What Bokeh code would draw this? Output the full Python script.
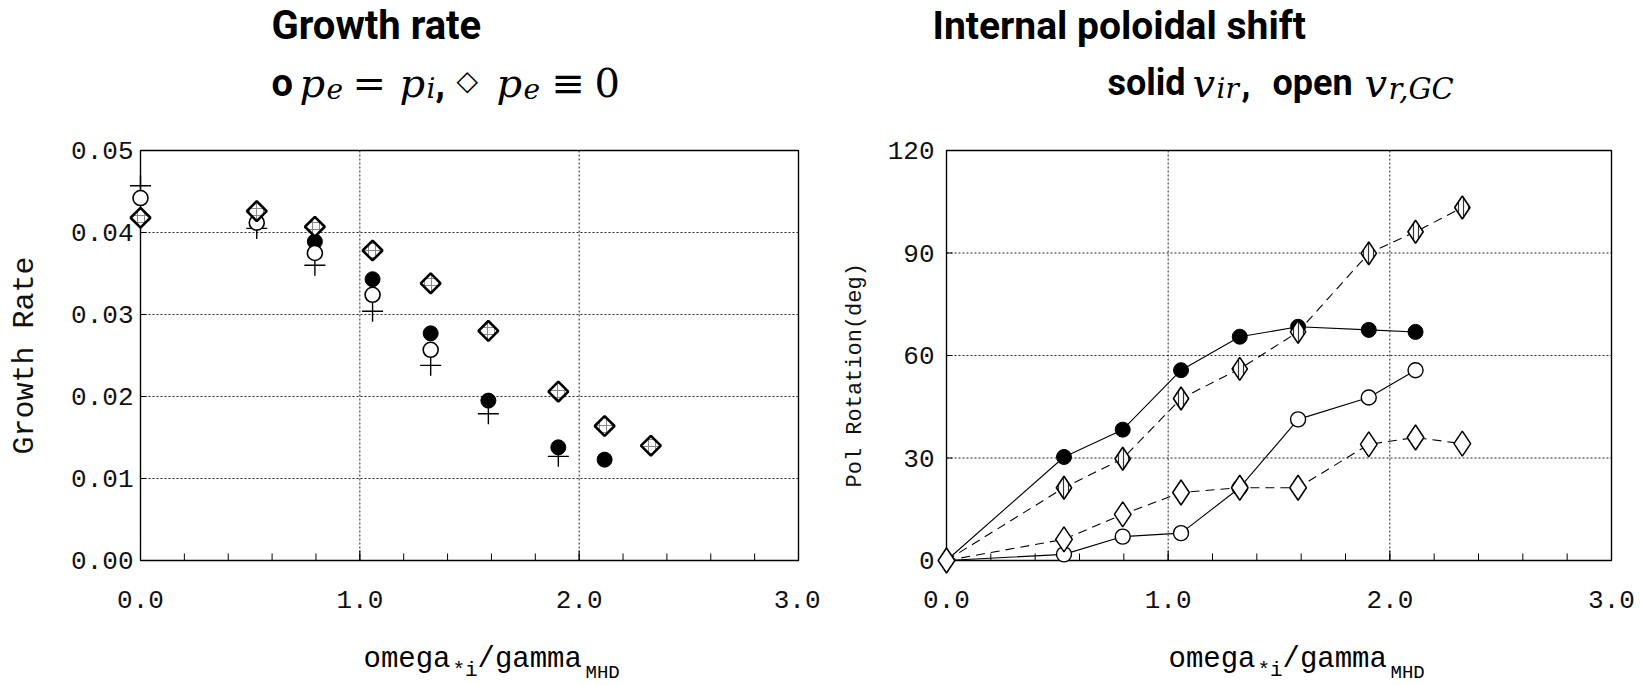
import numpy as np
from bokeh.plotting import figure
from bokeh.models import Range1d, FixedTicker, PrintfTickFormatter
from bokeh.core.properties import value
from bokeh.layouts import row, column
from bokeh.embed import file_html
from bokeh.resources import INLINE

# ---------------- data ----------------
# Growth rate panel
gr_diam_x = [0.0, 0.53, 0.795, 1.058, 1.323, 1.586, 1.905, 2.116, 2.327]
gr_diam_y = [0.0418, 0.0426, 0.0407, 0.0378, 0.0338, 0.0280, 0.0206, 0.0164, 0.0140]
gr_fill_x = [0.795, 1.058, 1.323, 1.586, 1.905, 2.116]
gr_fill_y = [0.0389, 0.0343, 0.0277, 0.0195, 0.0138, 0.0123]
gr_open_x = [0.0, 0.53, 0.795, 1.058, 1.323]
gr_open_y = [0.0442, 0.0412, 0.0375, 0.0324, 0.0257]
gr_plus_x = [0.0, 0.53, 0.795, 1.058, 1.323, 1.586, 1.905]
gr_plus_y = [0.0457, 0.0405, 0.0360, 0.0304, 0.0238, 0.0179, 0.0127]

# Poloidal rotation panel
rot_circ_x = [0.0, 0.53, 0.795, 1.058, 1.323, 1.586, 1.905, 2.116]
rot_fill_y = [0, 30.3, 38.3, 55.7, 65.5, 68.4, 67.5, 66.9]
rot_open_y = [0, 1.8, 7.0, 8.0, 21.3, 41.3, 47.7, 55.7]
rot_diam_x = [0.0, 0.53, 0.795, 1.058, 1.323, 1.586, 1.905, 2.116, 2.327]
rot_hatch_y = [0, 21.3, 29.8, 47.4, 56.1, 66.9, 89.9, 96.2, 103.3]
rot_odiam_y = [0, 6.2, 13.5, 19.9, 21.3, 21.3, 34.0, 36.0, 34.2]

x_ticks = [0.0, 1.0, 2.0, 3.0]
x_minor = [round(0.2 * k, 1) for k in range(16)]
gr_ticks = [0.0, 0.01, 0.02, 0.03, 0.04, 0.05]
rot_ticks = [0, 30, 60, 90, 120]

MONO = "Liberation Mono"
SANS = "Roboto"
SERIF = "DejaVu Serif"

W = 1641
TOP_H = 120          # title strip
PLOT_H = 510         # plot row
BOT_H = 55           # x-label strip
PAD = 15             # pixels of free room round the axes box
BOX_TOP = 150        # page y of axes box top
BOX_H = 410          # axes box height in pixels


def panel(width, box_left, box_w, yticks, yfmt, ylabel, ysize, ystand,
          ylab_stand):
    xmax = x_ticks[-1]
    ymax = yticks[-1]
    sx = xmax / box_w            # data per pixel
    sy = ymax / BOX_H
    left = box_left - PAD
    p = figure(width=width, height=PLOT_H,
               x_range=Range1d(-PAD * sx, xmax + PAD * sx),
               y_range=Range1d(-PAD * sy, ymax + PAD * sy),
               output_backend="svg", toolbar_location=None,
               min_border_left=left,
               min_border_right=width - left - box_w - 2 * PAD,
               min_border_top=BOX_TOP - PAD - TOP_H,
               min_border_bottom=PLOT_H - (BOX_TOP - PAD - TOP_H) - BOX_H - 2 * PAD)
    p.background_fill_color = "white"
    p.border_fill_color = "white"
    p.outline_line_color = None
    p.grid.visible = False
    xa, ya = p.xaxis[0], p.yaxis[0]
    xa.ticker = FixedTicker(ticks=x_ticks)
    xa.formatter = PrintfTickFormatter(format="%.1f")
    ya.ticker = FixedTicker(ticks=yticks)
    ya.formatter = PrintfTickFormatter(format=yfmt)
    for ax in (xa, ya):
        ax.axis_line_color = None
        ax.major_tick_line_color = None
        ax.minor_tick_line_color = None
        ax.major_label_text_font = MONO
        ax.major_label_text_font_size = "26px"
        ax.major_label_text_color = "#111111"
        ax.major_tick_out = 0
        ax.major_tick_in = 0
        ax.minor_tick_out = 0
        ax.minor_tick_in = 0
    xa.major_label_standoff = 30 - PAD
    ya.major_label_standoff = ystand - PAD
    ya.axis_label = ylabel
    ya.axis_label_text_font = MONO
    ya.axis_label_text_font_style = "normal"
    ya.axis_label_text_font_size = ysize
    ya.axis_label_text_color = "#111111"
    ya.axis_label_standoff = ylab_stand

    # dotted grid inside the box
    gx = x_ticks[1:-1]
    p.segment(x0=gx, y0=[0] * len(gx), x1=gx, y1=[ymax] * len(gx),
              line_color="#222222", line_dash="2 2", line_width=1)
    gy = yticks[1:-1]
    p.segment(x0=[0] * len(gy), y0=gy, x1=[xmax] * len(gy), y1=gy,
              line_color="#222222", line_dash="2 2", line_width=1)
    # ticks pointing in
    p.segment(x0=x_minor, y0=[0] * len(x_minor), x1=x_minor,
              y1=[7 * sy] * len(x_minor), line_color="black", line_width=1)
    p.segment(x0=x_ticks, y0=[0] * len(x_ticks), x1=x_ticks,
              y1=[10 * sy] * len(x_ticks), line_color="black", line_width=1)
    p.segment(x0=[0] * len(yticks), y0=yticks, x1=[6 * sx] * len(yticks),
              y1=yticks, line_color="black", line_width=1)
    # the axes box
    p.line(x=[0, xmax, xmax, 0, 0], y=[0, 0, ymax, ymax, 0],
           line_color="black", line_width=1.4)
    return p


def strip_fig(height, y0):
    s = figure(width=W, height=height, x_range=Range1d(0, W),
               y_range=Range1d(y0 + height, y0),
               output_backend="svg", toolbar_location=None,
               x_axis_type=None, y_axis_type=None,
               min_border_left=0, min_border_right=0,
               min_border_top=0, min_border_bottom=0)
    s.outline_line_color = None
    s.grid.visible = False
    s.background_fill_color = "white"
    s.border_fill_color = "white"
    return s


def t(fig, px, py, s, font, size, style="normal"):
    fig.text(x=[px], y=[py], text=[s], text_font=value(font),
             text_font_size=value(f"{size}px"),
             text_font_style=value(style),
             text_baseline="alphabetic", text_align="left",
             text_color="black")


TS = 40   # title sans size
MS = 40   # math main size
SS = 28   # math subscript size
L1 = 25   # baseline of first title line (strip coords)
L2 = 82   # baseline of second title line
SB = 88   # subscript baseline

# ---------------- title strip ----------------
top = strip_fig(TOP_H, 0)
t(top, 271, L1, "Growth rate", SANS, TS, "bold")
t(top, 271, L2, "o", SANS, 38, "bold")
t(top, 299, L2, "p", SERIF, MS, "italic")
t(top, 326, SB, "e", SERIF, SS, "italic")
t(top, 352, L2, "=", SERIF, MS)
t(top, 399, L2, "p", SERIF, MS, "italic")
t(top, 426, SB, "i", SERIF, SS, "italic")
t(top, 435, L2, ",", SANS, 38, "bold")
t(top, 456, L2 - 2, "\u25c7", "DejaVu Sans", 28)
t(top, 496, L2, "p", SERIF, MS, "italic")
t(top, 523, SB, "e", SERIF, SS, "italic")
t(top, 551, L2, "\u2261", SERIF, MS)
t(top, 594, L2, "0", SERIF, MS)

t(top, 932, L1, "Internal poloidal shift", SANS, 39, "bold")
t(top, 1107, L2, "solid", SANS, 36, "bold")
t(top, 1192, L2, "v", SERIF, MS, "italic")
t(top, 1216, SB, "ir", SERIF, SS, "italic")
t(top, 1241, L2, ",", SANS, 36, "bold")
t(top, 1272, L2, "open", SANS, 36, "bold")
t(top, 1364, L2, "v", SERIF, MS, "italic")
t(top, 1388, SB, "r,GC", SERIF, 29, "italic")

# ---------------- left panel ----------------
p1 = panel(820, 140, 658, gr_ticks, "%.2f", "Growth Rate", "30px", 7, 26)
p1.scatter(gr_plus_x, gr_plus_y, marker="cross", size=21, line_color="black",
           line_width=1.4)
p1.scatter(gr_fill_x, gr_fill_y, marker="circle", size=15, fill_color="black",
           line_color="black")
p1.scatter(gr_open_x, gr_open_y, marker="circle", size=15, fill_color="white",
           line_color="black", line_width=1.6)
p1.scatter(gr_diam_x, gr_diam_y, marker="square", angle=np.pi / 4, size=14,
           fill_color="white", line_color="black", line_width=2.6,
           hatch_pattern="cross", hatch_color="#8a8a8a", hatch_scale=7,
           hatch_weight=1)

# ---------------- right panel ----------------
p2 = panel(821, 946 - 820, 665, rot_ticks, "%d",
           "Pol Rotation(deg)\u00a0\u00a0\u00a0", "22px", 12, 17)
p2.line(rot_circ_x, rot_fill_y, line_color="black", line_width=1.1)
p2.line(rot_circ_x, rot_open_y, line_color="black", line_width=1.1)
p2.line(rot_diam_x, rot_hatch_y, line_color="black", line_width=1.1,
        line_dash="9 6")
p2.line(rot_diam_x, rot_odiam_y, line_color="black", line_width=1.1,
        line_dash="9 6")
p2.scatter(rot_circ_x[1:], rot_fill_y[1:], marker="circle", size=15,
           fill_color="black", line_color="black")
p2.scatter(rot_circ_x[1:], rot_open_y[1:], marker="circle", size=15,
           fill_color="white", line_color="black", line_width=1.4)
p2.scatter(rot_diam_x[1:], rot_hatch_y[1:], marker="diamond", size=23,
           fill_color="white", line_color="black", line_width=1.6,
           hatch_pattern="vertical_line", hatch_color="#333333",
           hatch_scale=5, hatch_weight=1.2)
p2.scatter(rot_diam_x, rot_odiam_y, marker="diamond", size=25,
           fill_color="white", line_color="black", line_width=1.5)

# ---------------- x-label strip ----------------
bot = strip_fig(BOT_H, TOP_H + PLOT_H)
for x0 in (363, 1168):
    t(bot, x0, 659, "omega", MONO, 29)
    t(bot, x0 + 89, 670, "*i", MONO, 21)
    t(bot, x0 + 114, 659, "/gamma", MONO, 29)
    t(bot, x0 + 222, 672, "MHD", MONO, 19)

layout = column(top, row(p1, p2), bot)
open("out.html", "w").write(file_html(layout, INLINE))
